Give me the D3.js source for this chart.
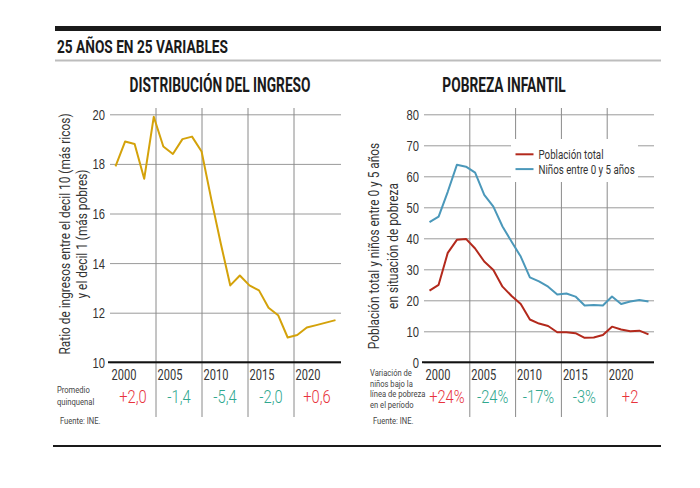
<!DOCTYPE html>
<html><head><meta charset="utf-8">
<script src="https://cdn.jsdelivr.net/npm/d3@7"></script>
<style>
body{margin:0;background:#fff;}
svg{font-family:Roboto,"Noto Sans",sans-serif;}
</style></head><body>
<svg id="c" width="700" height="488"></svg>
<script>
// ---- data ----
const incomeYears = d3.range(2000, 2024);
const incomeRatio = [17.9,18.9,18.8,17.4,19.9,18.7,18.4,19.0,19.1,18.5,16.6,14.8,13.1,13.5,13.1,12.9,12.2,11.9,11.0,11.1,11.4,11.5,11.6,11.7];
const povertyYears = d3.range(2000, 2025);
const povertyTotal = [23.1,25.0,35.3,39.5,39.8,36.7,32.5,29.8,24.4,21.4,18.8,13.8,12.5,11.7,9.7,9.7,9.4,7.9,8.0,8.8,11.5,10.6,10.0,10.2,9.0];
const povertyKids = [45.2,47.0,55.0,63.7,63.1,61.2,54.0,50.2,43.8,38.9,34.1,27.4,26.1,24.4,21.9,22.2,21.2,18.3,18.5,18.3,21.2,18.8,19.6,20.1,19.6];
const periods = ["2000","2005","2010","2015","2020"];
const incomeChange = ["+2,0","-1,4","-5,4","-2,0","+0,6"];
const povertyChange = ["+24%","-24%","-17%","-3%","+2"];
const incomeTicks = [10,12,14,16,18,20];
const povertyTicks = [0,10,20,30,40,50,60,70,80];
const seriesNames = ["Población total","Niños entre 0 y 5 años"];

const RED = "#e8333c", TEAL = "#2fa88f";
const svg = d3.select("#c");

// condensed text helper (horizontal squeeze keeps real text)
function txt(parent, x, y, s, o){
  o = o || {};
  const f = o.f || 0.8;
  const rot = o.rotate ? ` rotate(${o.rotate})` : "";
  return parent.append("text")
    .attr("transform", `translate(${x},${y})${rot} scale(${f},1)`)
    .attr("font-size", o.size || 13)
    .attr("font-weight", o.weight || "normal")
    .attr("text-anchor", o.anchor || "start")
    .attr("fill", o.fill || "#333")
    .text(s);
}

// header
svg.append("rect").attr("x",55).attr("y",26).attr("width",606).attr("height",5).attr("fill","#1a1a1a");
txt(svg,57,52.5,"25 AÑOS EN 25 VARIABLES",{size:19,weight:"bold",fill:"#1a1a1a",f:0.72});
svg.append("rect").attr("x",55).attr("y",59.5).attr("width",606).attr("height",2).attr("fill","#bdbdbd");
svg.append("rect").attr("x",53).attr("y",445).attr("width",608).attr("height",2).attr("fill","#1a1a1a");

function chart(opt){
  const g = svg.append("g");
  const band = d3.scaleBand().domain(periods).range([opt.x0, opt.x1]);
  const y = d3.scaleLinear().domain(opt.ydom).range([362.3, 114.3]);
  const x = d3.scaleLinear().domain(d3.extent(opt.years)).range([opt.x0+5.5, opt.x1-4.5]);

  txt(g,opt.titleX,92,opt.title,{size:20.5,weight:"bold",fill:"#1a1a1a",anchor:"middle",f:0.67});

  // horizontal grid + y tick labels
  const ax = d3.axisLeft(y).tickValues(opt.ticks).tickSize(-(opt.x1-opt.x0+1)).tickPadding(0);
  const ag = g.append("g").attr("transform",`translate(${opt.x0},0)`).call(ax);
  ag.select(".domain").remove();
  ag.selectAll(".tick line").attr("stroke","#9a9a9a").attr("stroke-width",1);
  ag.selectAll(".tick text").attr("font-size",14).attr("fill","#333").attr("font-family",null)
    .attr("x",0).attr("dy","0.36em").attr("transform","translate(-5,0) scale(0.8,1)");

  // dividers
  g.selectAll(".div").data(periods.slice(1)).join("line")
    .attr("x1",d=>band(d)).attr("x2",d=>band(d)).attr("y1",108).attr("y2",417)
    .attr("stroke","#8a8a8a").attr("stroke-width",1);

  // base axis
  g.append("line").attr("x1",opt.x0-2).attr("x2",opt.x1+1).attr("y1",362.3).attr("y2",362.3)
    .attr("stroke","#111").attr("stroke-width",2);

  // period labels
  periods.forEach(p=>txt(g,band(p)+1.5,379.5,p,{size:14,fill:"#333",f:0.79}));

  // change values
  opt.change.forEach((d,i)=>txt(g,band(periods[i])+band.bandwidth()/2,402.5,d,
    {size:17.5,weight:300,anchor:"middle",fill:d.startsWith("+")?RED:TEAL,f:0.84}));

  // notes
  opt.note.forEach((s,i)=>txt(g,opt.noteX,opt.noteY+i*opt.noteDy,s,{size:9.5,fill:"#444",f:0.8}));
  txt(g,opt.noteX+3,424,"Fuente: INE.",{size:9.5,fill:"#444",f:0.8});

  // y title
  opt.ytitle.forEach((s,i)=>txt(g,opt.ytX+i*opt.ytDx,opt.ytY,s,{size:14.5,anchor:"middle",rotate:-90,fill:"#333",f:0.82}));

  // lines
  const line = d3.line().x((d,i)=>x(opt.years[i])).y(d=>y(d));
  opt.series.forEach(s=>{
    g.append("path").datum(s.values).attr("d",line).attr("fill","none")
      .attr("stroke",s.color).attr("stroke-width",2).attr("stroke-linejoin","round");
  });
  return {g,x,y};
}

chart({x0:110,x1:340,ydom:[10,20],ticks:incomeTicks,years:incomeYears,title:"DISTRIBUCIÓN DEL INGRESO",titleX:220,
  change:incomeChange,note:["Promedio","quinquenal"],noteX:57,noteY:393,noteDy:11.5,
  ytitle:["Ratio de ingresos entre el decil 10 (más ricos)","y el decil 1 (más pobres)"],ytX:70,ytY:234,ytDx:16.5,
  series:[{values:incomeRatio,color:"#d4a20a"}]});

const rc = chart({x0:424,x1:653,ydom:[0,80],ticks:povertyTicks,years:povertyYears,title:"POBREZA INFANTIL",titleX:504,
  change:povertyChange,note:["Variación de","niños bajo la","línea de pobreza","en el período"],noteX:370,noteY:376,noteDy:10.7,
  ytitle:["Población total y niños entre 0 y 5 años","en situación de pobreza"],ytX:379,ytY:246,ytDx:18.5,
  series:[{values:povertyTotal,color:"#b3291c"},{values:povertyKids,color:"#4b98ba"}]});

// legend
const lg = rc.g.append("g");
lg.append("rect").attr("x",511).attr("y",139).attr("width",127).attr("height",43).attr("fill","#fff");
const lcolors = ["#b3291c","#4b98ba"];
seriesNames.forEach((n,i)=>{
  lg.append("line").attr("x1",515.5).attr("x2",533.5).attr("y1",154.3+i*14.8).attr("y2",154.3+i*14.8)
    .attr("stroke",lcolors[i]).attr("stroke-width",2);
  txt(lg,538.5,158.8+i*14.8,n,{size:12.5,fill:"#333",f:0.78});
});
</script></body></html>
